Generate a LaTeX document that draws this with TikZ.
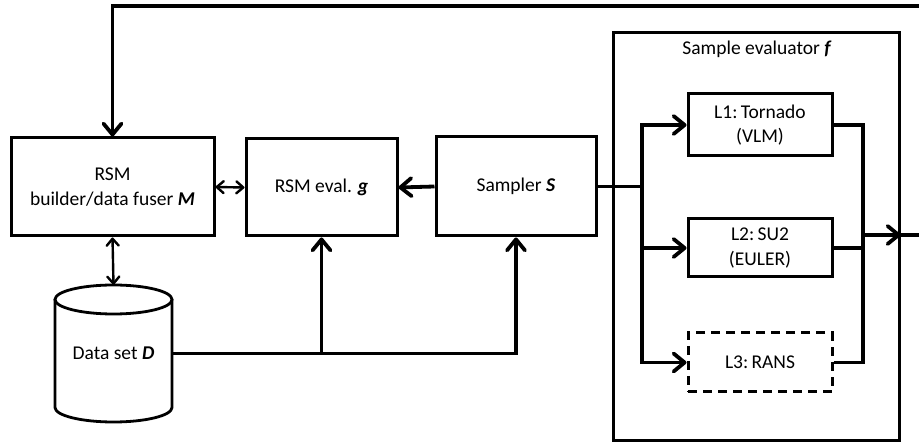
\documentclass[tikz,border=0pt]{standalone}
\usepackage{fontspec}
\setmainfont{Carlito}
\usetikzlibrary{arrows.meta,calc}
\begin{document}
\begin{tikzpicture}[x=1pt,y=-1pt,
  box/.style={draw,line width=3pt,inner sep=0pt,align=center,font=\fontsize{19.5}{24.5}\selectfont},
  conn/.style={line width=3.8pt},
  thin/.style={line width=2.4pt},
  bigtip/.style={-{Straight Barb[length=11pt,width=18pt,round]}},
  smalltip/.style={{Straight Barb[length=7pt,width=12pt,round]}-{Straight Barb[length=7pt,width=12pt,round]}},
  lbl/.style={font=\fontsize{19.5}{24.5}\selectfont}
]
\useasboundingbox (0,0) rectangle (919,443);
\clip (0,0) rectangle (919,443);
\node[box,minimum width=203pt,minimum height=98pt] (M) at (112.5,187) {RSM\\builder/data fuser \textbf{\textit{M}}};
\node[box,minimum width=151pt,minimum height=97pt] (g) at (321.5,187.5) {RSM eval. \textbf{\textit{g}}};
\node[box,minimum width=160pt,minimum height=99pt] (S) at (516,186.5) {Sampler \textbf{\textit{S}}};
\node[draw,line width=3pt,minimum width=286pt,minimum height=408pt,inner sep=0pt] (E) at (756,237) {};
\node[lbl] (Et) at (757,49) {Sample evaluator \textbf{\textit{f}}};
\node[box,minimum width=144pt,minimum height=62pt] (L1) at (760,125) {L1:\,Tornado\\(VLM)};
\node[box,minimum width=144pt,minimum height=58pt] (L2) at (760,248) {L2:\,SU2\\(EULER)};
\node[box,dashed,dash pattern=on 9pt off 6pt,minimum width=144pt,minimum height=59pt] (L3) at (760,362.5) {L3:\,RANS};
% cylinder
\draw[line width=2.8pt] (55,299.5) -- (55,407.5) arc[start angle=180,end angle=360,x radius=58.5,y radius=-14.5] -- (172,299.5);
\draw[line width=2.8pt] (113.5,299.5) ellipse[x radius=58.5,y radius=14.5];
\node[lbl,minimum width=117pt,minimum height=137pt,inner sep=0pt] (D) at (113.5,353.5) {\raisebox{-6pt}{Data set \textbf{\textit{D}}}};
% connectors
\draw[thin,smalltip] (M.east) -- (g.west);
\draw[thin,smalltip] (M.south) -- (D.north);
\draw[conn,bigtip] (S.west) -- (g.east);
\draw[conn,bigtip] (D.east) -| (S.south);
\coordinate (jg) at (g.south |- D.east);
\draw[conn,bigtip] (jg) -- (g.south);
\coordinate (ib) at (642,186.5);
\draw[conn] (S.east) -- (ib);
\draw[conn,bigtip] (ib) |- (L1.west);
\draw[conn,bigtip] (ib) |- (L2.west);
\draw[conn,bigtip] (ib) |- (L3.west);
\coordinate (ob) at (863,235);
\draw[conn] (L1.east) -| (ob);
\draw[conn] (L3.east) -| (ob);
\draw[conn] (L2.east) -- (L2.east -| ob);
\coordinate (oe) at (E.east |- ob);
\draw[conn,bigtip] (ob) -- (oe);
\coordinate (far) at (940,235);
\coordinate (fb) at (112.5,6);
\draw[conn,bigtip] (oe) -- (far) |- (fb) -- (M.north);
\end{tikzpicture}
\end{document}
